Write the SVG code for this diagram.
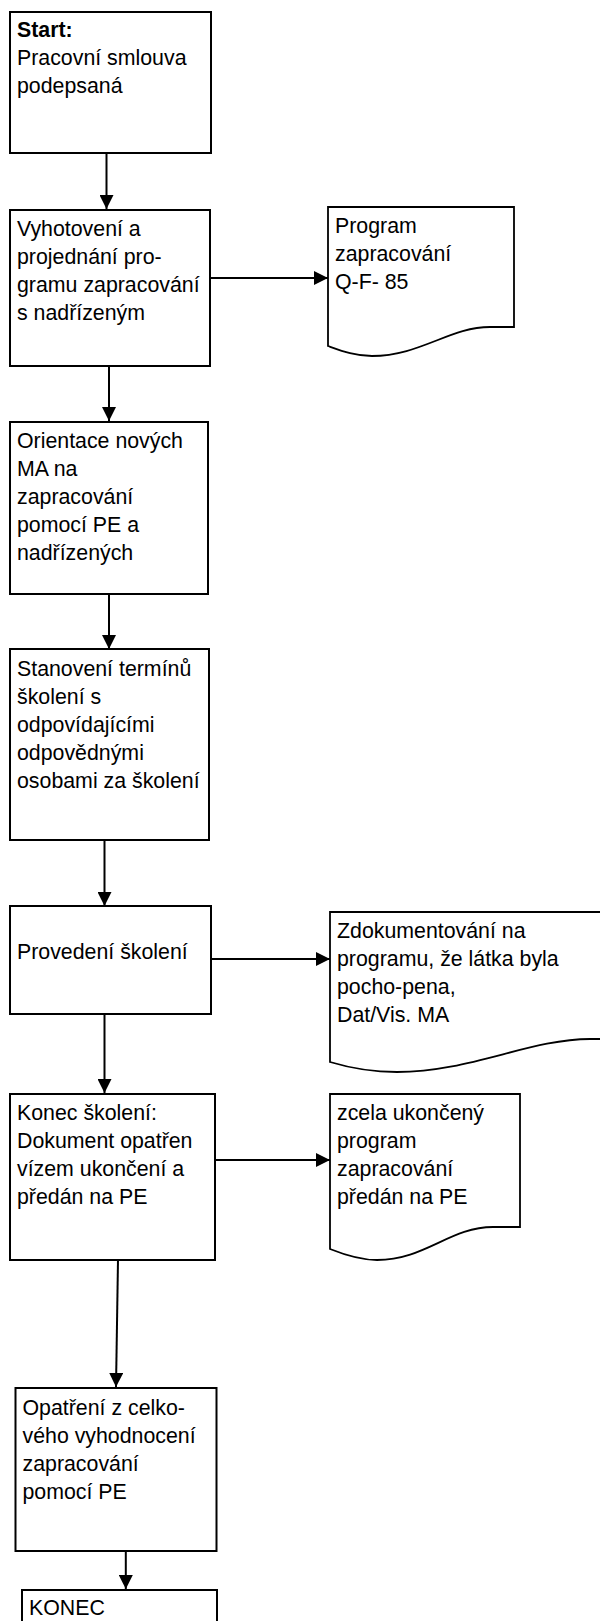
<svg xmlns="http://www.w3.org/2000/svg" width="600" height="1621" viewBox="0 0 600 1621">
<defs>
<style>
.box{fill:#fff;stroke:#000;stroke-width:2}
.doc{fill:#fff;stroke:#000;stroke-width:1.8;stroke-linejoin:miter}
.t{font-family:"Liberation Sans",Arial,sans-serif;font-size:21.33px;fill:#000}
.b{font-weight:bold}
.c{stroke:#000;stroke-width:2;fill:none;marker-end:url(#ah)}
</style>
<marker id="ah" markerUnits="userSpaceOnUse" markerWidth="15" markerHeight="14" refX="14" refY="7" orient="auto">
<path d="M0,0 L14,7 L0,14 z" fill="#000"/>
</marker>
</defs>
<rect width="600" height="1621" fill="#fff"/>
<g id="connectors">
<line class="c" x1="106.5" y1="153" x2="106.5" y2="209"/>
<line class="c" x1="210" y1="278" x2="328" y2="278"/>
<line class="c" x1="109" y1="366" x2="109" y2="421"/>
<line class="c" x1="109" y1="594" x2="109" y2="649"/>
<line class="c" x1="104.5" y1="840" x2="104.5" y2="906"/>
<line class="c" x1="211" y1="959" x2="330" y2="959"/>
<line class="c" x1="104.5" y1="1014" x2="104.5" y2="1093"/>
<line class="c" x1="212" y1="1160" x2="330" y2="1160"/>
<line class="c" x1="118" y1="1260" x2="116" y2="1387"/>
<line class="c" x1="125.8" y1="1548" x2="125.8" y2="1589"/>
</g>
<g id="start">
<rect class="box" x="10" y="12" width="201" height="141"/>
<text class="t b" x="17" y="37">Start:</text>
<text class="t" x="17" y="65">Pracovní smlouva</text>
<text class="t" x="17" y="93">podepsaná</text>
</g>
<g id="vyhotoveni">
<rect class="box" x="10" y="210" width="200" height="156"/>
<text class="t" x="17" y="236">Vyhotovení a</text>
<text class="t" x="17" y="264">projednání pro-</text>
<text class="t" x="17" y="292">gramu zapracování</text>
<text class="t" x="17" y="320">s nadřízeným</text>
</g>
<g id="program">
<path class="doc" d="M328,207 H514 V327 H490 C450,327 420,356 372,356 C355,356 342,351 328,346 Z"/>
<text class="t" x="335" y="233">Program</text>
<text class="t" x="335" y="261">zapracování</text>
<text class="t" x="335" y="289">Q-F- 85</text>
</g>
<g id="orientace">
<rect class="box" x="10" y="422" width="198" height="172"/>
<text class="t" x="17" y="448">Orientace nových</text>
<text class="t" x="17" y="476">MA na</text>
<text class="t" x="17" y="504">zapracování</text>
<text class="t" x="17" y="532">pomocí PE a</text>
<text class="t" x="17" y="560">nadřízených</text>
</g>
<g id="stanoveni">
<rect class="box" x="10" y="649" width="199" height="191"/>
<text class="t" x="17" y="676">Stanovení termínů</text>
<text class="t" x="17" y="704">školení s</text>
<text class="t" x="17" y="732">odpovídajícími</text>
<text class="t" x="17" y="760">odpovědnými</text>
<text class="t" x="17" y="788">osobami za školení</text>
</g>
<g id="provedeni">
<rect class="box" x="10" y="906" width="201" height="108"/>
<text class="t" x="17" y="959">Provedení školení</text>
</g>
<g id="zdokumentovani">
<path class="doc" d="M330,912 H630 V1039 H590 C530,1039 470,1072 397,1072 C370,1072 350,1068 330,1062 Z"/>
<text class="t" x="337" y="938">Zdokumentování na</text>
<text class="t" x="337" y="966">programu, že látka byla</text>
<text class="t" x="337" y="994">pocho-pena,</text>
<text class="t" x="337" y="1022">Dat/Vis. MA</text>
</g>
<g id="konec-skoleni">
<rect class="box" x="10" y="1094" width="205" height="166"/>
<text class="t" x="17" y="1120">Konec školení:</text>
<text class="t" x="17" y="1148">Dokument opatřen</text>
<text class="t" x="17" y="1176">vízem ukončení a</text>
<text class="t" x="17" y="1204">předán na PE</text>
</g>
<g id="zcela">
<path class="doc" d="M330,1094 H520 V1227 H493 C450,1227 425,1260 377,1260 C360,1260 345,1255 330,1249 Z"/>
<text class="t" x="337" y="1120">zcela ukončený</text>
<text class="t" x="337" y="1148">program</text>
<text class="t" x="337" y="1176">zapracování</text>
<text class="t" x="337" y="1204">předán na PE</text>
</g>
<g id="opatreni">
<rect class="box" x="15.5" y="1388" width="201" height="163"/>
<text class="t" x="22.5" y="1415">Opatření z celko-</text>
<text class="t" x="22.5" y="1443">vého vyhodnocení</text>
<text class="t" x="22.5" y="1471">zapracování</text>
<text class="t" x="22.5" y="1499">pomocí PE</text>
</g>
<g id="konec">
<rect class="box" x="22" y="1590" width="195" height="40"/>
<text class="t" x="29" y="1615">KONEC</text>
</g>
</svg>
